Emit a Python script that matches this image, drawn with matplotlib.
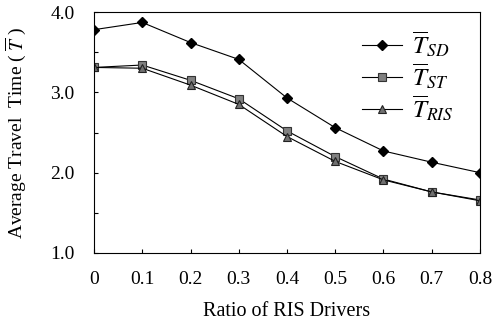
import matplotlib
matplotlib.use('Agg')
import matplotlib.pyplot as plt

plt.rcParams['font.family'] = ['Liberation Serif', 'DejaVu Serif']
plt.rcParams['mathtext.fontset'] = 'stix'

ratio = [0, 0.1, 0.2, 0.3, 0.4, 0.5, 0.6, 0.7, 0.8]
t_sd = [3.78, 3.87, 3.62, 3.41, 2.93, 2.56, 2.27, 2.13, 2.00]
t_st = [3.31, 3.34, 3.15, 2.92, 2.52, 2.20, 1.92, 1.76, 1.66]
t_ris = [3.31, 3.30, 3.09, 2.85, 2.45, 2.14, 1.91, 1.76, 1.65]
xtick_labels = ['0', '0.1', '0.2', '0.3', '0.4', '0.5', '0.6', '0.7', '0.8']

fig = plt.figure(figsize=(4.93, 3.22), dpi=100)
ax = fig.add_axes([0.1907, 0.2143, 0.7829, 0.7484])

ax.plot(ratio, t_sd, color='black', lw=0.8, marker='D', ms=5,
        mfc='black', mec='black', label=r'$\overline{T}_{SD}$')
ax.plot(ratio, t_st, color='black', lw=0.8, marker='s', ms=6,
        mfc='#808080', mec='#333333', mew=0.8, label=r'$\overline{T}_{ST}$')
ax.plot(ratio, t_ris, color='black', lw=0.8, marker='^', ms=6,
        mfc='#707070', mec='#222222', mew=0.8, label=r'$\overline{T}_{RIS}$')

ax.set_xlim(0, 0.8)
ax.set_ylim(1.0, 4.0)
ax.set_xticks(ratio)
ax.set_xticklabels(xtick_labels)
ax.set_yticks([1.0, 2.0, 3.0, 4.0])
ax.set_yticklabels(['1.0', '2.0', '3.0', '4.0'])
ax.set_yticks([1.5, 2.5, 3.5], minor=True)
ax.tick_params(direction='in', labelsize=14, length=3, width=0.8)
ax.tick_params(axis='x', pad=13)
ax.tick_params(axis='y', pad=14)
ax.tick_params(which='minor', direction='in', length=3, width=0.8)
for sp in ax.spines.values():
    sp.set_linewidth(0.8)

ax.set_xlabel('Ratio of RIS Drivers', fontsize=14.5, labelpad=10)
ax.set_ylabel(r'Average Travel  Time ( $\overline{T}$ )', fontsize=14, labelpad=16)

ax.legend(loc='upper right', bbox_to_anchor=(0.99, 1.02), frameon=False,
          fontsize=18, handlelength=1.6, handletextpad=0.4, labelspacing=0.1)

fig.savefig('out.png', dpi=100)
